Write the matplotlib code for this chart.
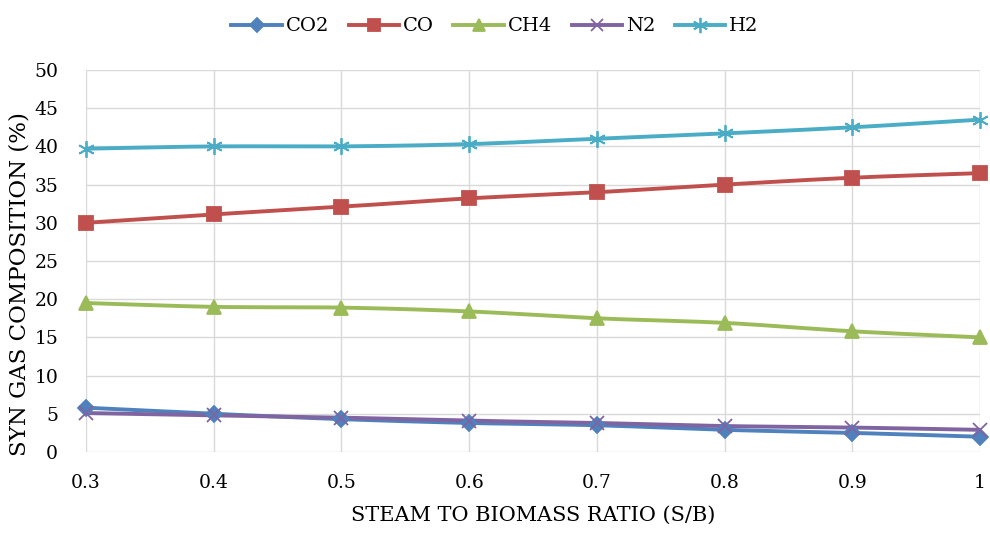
import matplotlib
matplotlib.use("Agg")
import matplotlib.pyplot as plt
import numpy as np

plt.rcParams['font.family'] = ['DejaVu Serif']

ratio = [0.3, 0.4, 0.5, 0.6, 0.7, 0.8, 0.9, 1.0]
co2 = [5.8, 5.0, 4.3, 3.8, 3.5, 2.9, 2.5, 2.0]
co = [30.0, 31.1, 32.1, 33.2, 34.0, 35.0, 35.9, 36.5]
ch4 = [19.5, 19.0, 18.9, 18.4, 17.5, 16.9, 15.8, 15.0]
n2 = [5.1, 4.8, 4.5, 4.1, 3.8, 3.4, 3.2, 2.9]
h2 = [39.7, 40.0, 40.0, 40.3, 41.0, 41.7, 42.5, 43.5]

series = [
    ("CO2", co2, "#4F81BD", "D", 8),
    ("CO", co, "#C0504D", "s", 9.5),
    ("CH4", ch4, "#9BBB59", "^", 10),
    ("N2", n2, "#8064A2", "x", 10),
    ("H2", h2, "#4BACC6", (6, 2, 0), 12),
]


def smooth(x, y, n=20):
    # catmull-rom through the points, like a spreadsheet "smoothed line"
    x = np.asarray(x, float)
    y = np.asarray(y, float)
    px = np.concatenate([[2 * x[0] - x[1]], x, [2 * x[-1] - x[-2]]])
    py = np.concatenate([[2 * y[0] - y[1]], y, [2 * y[-1] - y[-2]]])
    xs, ys = [], []
    t = np.linspace(0, 1, n, endpoint=False)
    for i in range(1, len(px) - 2):
        p0, p1, p2, p3 = py[i - 1], py[i], py[i + 1], py[i + 2]
        q0, q1, q2, q3 = px[i - 1], px[i], px[i + 1], px[i + 2]
        f = lambda a0, a1, a2, a3: 0.5 * (2 * a1 + (-a0 + a2) * t
                                         + (2 * a0 - 5 * a1 + 4 * a2 - a3) * t ** 2
                                         + (-a0 + 3 * a1 - 3 * a2 + a3) * t ** 3)
        xs.append(f(q0, q1, q2, q3))
        ys.append(f(p0, p1, p2, p3))
    xs.append([x[-1]])
    ys.append([y[-1]])
    return np.concatenate(xs), np.concatenate(ys)


fig = plt.figure(figsize=(9.9, 5.33), dpi=100)
ax = fig.add_axes([86 / 990, 1 - 452 / 533, 894 / 990, 382 / 533])

handles = []
for name, vals, color, marker, ms in series:
    sx, sy = smooth(ratio, vals)
    ax.plot(sx, sy, color=color, lw=2.8, zorder=3, solid_capstyle='round')
    ax.plot(ratio, vals, ls='none', marker=marker, color=color, ms=ms,
            mew=1.3, zorder=4, clip_on=False)
    h, = ax.plot([], [], color=color, lw=2.8, marker=marker, ms=ms - 1, mew=1.3)
    handles.append(h)

ax.set_xlim(0.3, 1.0)
ax.set_ylim(0, 50)
ax.set_xticks(ratio)
ax.set_xticklabels(["0.3", "0.4", "0.5", "0.6", "0.7", "0.8", "0.9", "1"])
ax.set_yticks(range(0, 51, 5))
ax.grid(True, color="#D9D9D9", lw=1.0, zorder=0)
for s in ax.spines.values():
    s.set_visible(False)
ax.tick_params(length=0, labelsize=13.5)
ax.tick_params(axis='y', pad=20)
ax.tick_params(axis='x', pad=16)

ax.set_xlabel("STEAM TO BIOMASS RATIO (S/B)", fontsize=15, labelpad=10)
ax.set_ylabel("SYN GAS COMPOSITION (%)", fontsize=16.5)
ax.yaxis.set_label_coords(-0.074, 0.44)
ax.yaxis.label.set_va('center')

fig.legend(handles, [s[0] for s in series], loc='upper center',
           bbox_to_anchor=(0.5, 1.0), ncol=5, frameon=False, fontsize=14,
           handlelength=2.6, columnspacing=1.0, handletextpad=0.2)

fig.savefig("out.png", dpi=100)
